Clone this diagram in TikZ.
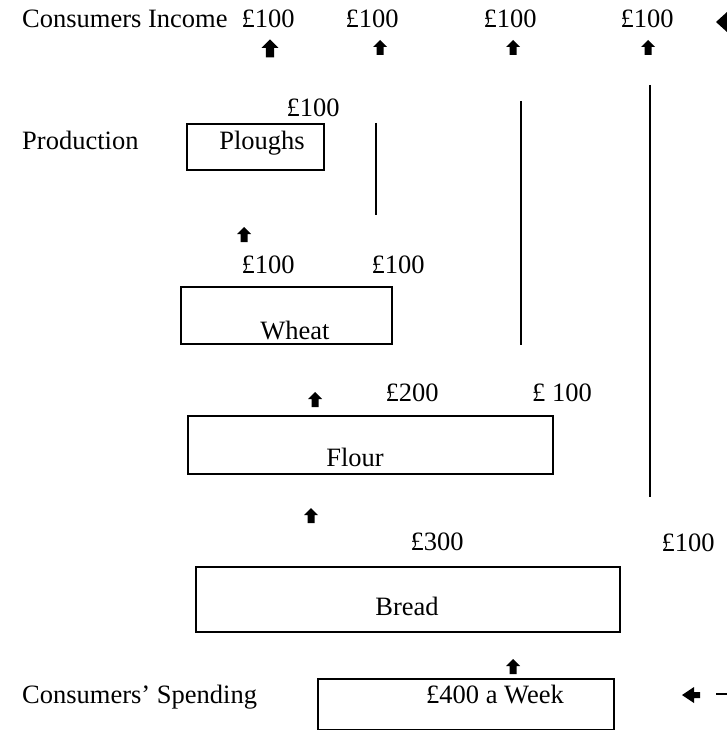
\documentclass[tikz,border=0pt]{standalone}
\usepackage{fontspec}
\setmainfont{Liberation Serif}
\begin{document}
\begin{tikzpicture}[x=1pt,y=-1pt,
  every node/.style={font=\fontsize{26.5}{30}\selectfont, inner sep=0pt},
  lbl/.style={anchor=base},
  lblw/.style={anchor=base west},
  box/.style={draw, line width=1.6pt, rectangle, anchor=north west},
  vline/.style={line width=1.6pt},
  uparr/.pic={\fill[black] (0,-8) -- (7,-1) -- (3.5,-1) -- (3.5,7) -- (-3.5,7) -- (-3.5,-1) -- (-7,-1) -- cycle;}]
\useasboundingbox[fill=white] (0,0) rectangle (727,730);

% top row
\node[lblw] (inc) at (22,28) {Consumers Income};
\node[lbl] (i1) at (268,28) {£100};
\node[lbl] (i2) at (372,28) {£100};
\node[lbl] (i3) at (510,28) {£100};
\node[lbl] (i4) at (647,28) {£100};
\pic[scale=1.2] at (270,49) {uparr};
\pic at (380,48) {uparr};
\pic at (513,48) {uparr};
\pic at (648,48) {uparr};
\fill (716,22) -- (727,12) -- (727,32) -- cycle;

% production
\node[lblw] (prod) at (22,150) {Production};
\node[box, minimum width=137pt, minimum height=46pt] (ploughs) at (186,123) {};
\node[lbl] at (262,150) {Ploughs};
\node[lbl] (p100) at (313,117) {£100};
\coordinate (l1t) at (376,123);
\coordinate (l1b) at (376,215);
\draw[vline] (l1t) -- (l1b);
\pic at (244,235) {uparr};

% wheat
\node[lbl] (w1) at (268,273) {£100};
\node[lbl] (w2) at (398,273) {£100};
\node[box, minimum width=211pt, minimum height=57pt] (wheat) at (180,286) {};
\node[lbl] at (295,339) {Wheat};
\coordinate (l2t) at (521,101);
\coordinate (l2b) at (521,345);
\draw[vline] (l2t) -- (l2b);
\coordinate (l3t) at (650,85);
\coordinate (l3b) at (650,497);
\draw[vline] (l3t) -- (l3b);

% flour
\pic at (315,400) {uparr};
\node[lbl] (f1) at (412,401) {£200};
\node[lbl] (f2) at (562,401) {£ 100};
\node[box, minimum width=365pt, minimum height=58pt] (flour) at (187,415) {};
\node[lbl] at (355,466) {Flour};

% bread
\pic at (311,516) {uparr};
\node[lbl] (b1) at (437,550) {£300};
\node[lbl] (b2) at (688,551) {£100};
\node[box, minimum width=424pt, minimum height=65pt] (bread) at (195,566) {};
\node[lbl] at (407,615) {Bread};

% spending
\pic at (513,667) {uparr};
\node[lblw] (spend) at (22,703) {Consumers’ Spending};
\node[box, minimum width=296pt, minimum height=51pt] (week) at (317,678) {};
\node[lbl] at (495,703) {£400 a Week};
\fill (682,695) -- (694,687) -- (694,692) -- (700,692) -- (700,698) -- (694,698) -- (694,703) -- cycle;
\coordinate (d1) at (716,694);
\coordinate (d2) at (727,694);
\draw[line width=1.6pt] (d1) -- (d2);
\end{tikzpicture}
\end{document}
